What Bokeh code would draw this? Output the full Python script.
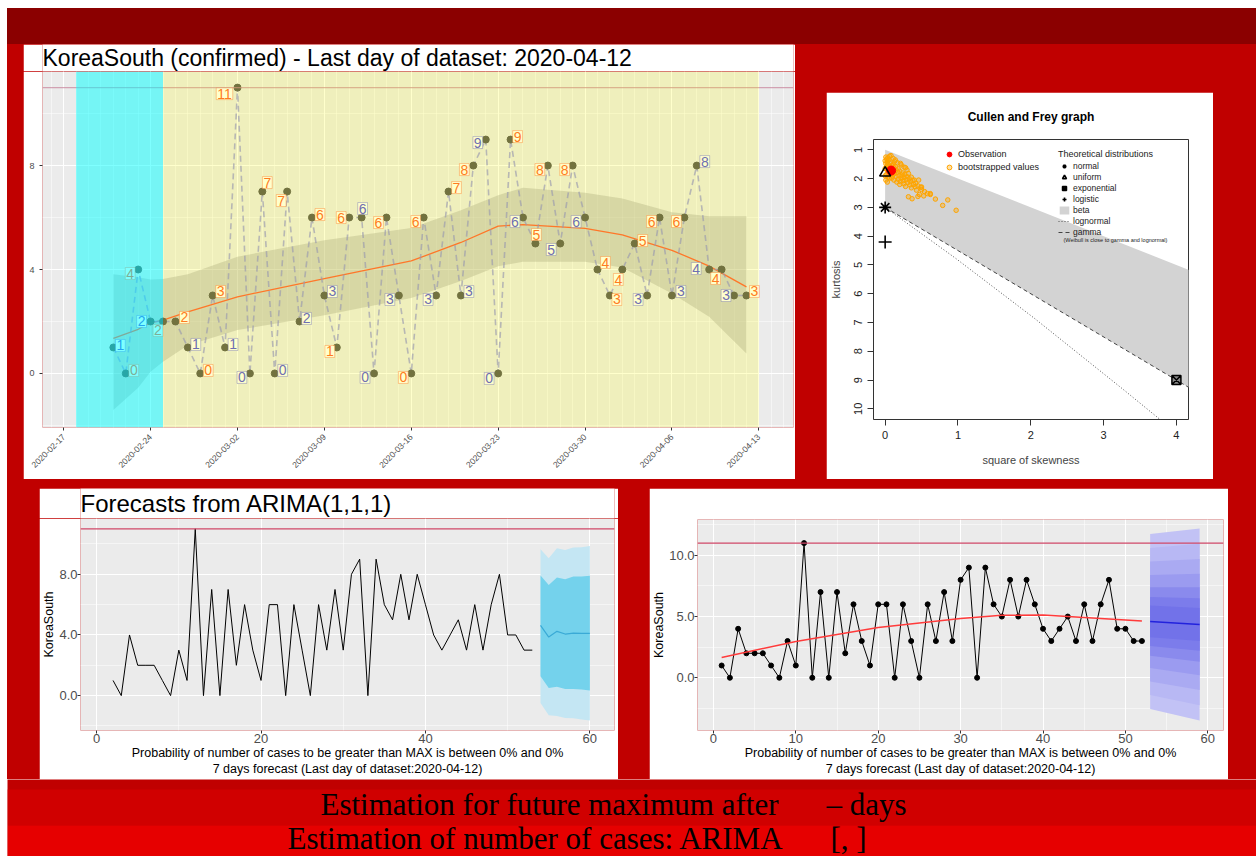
import math
import pandas as pd
from bokeh.plotting import figure
from bokeh.layouts import column, row
from bokeh.models import (ColumnDataSource, Span, BoxAnnotation, FixedTicker,
                          DatetimeTickFormatter, PrintfTickFormatter, Legend,
                          LegendItem, Label, Spacer, Div)
from bokeh.core.properties import value
from bokeh.embed import file_html
from bokeh.resources import INLINE

FONT = "Liberation Sans"
SERIF = "Liberation Serif"

# ------------------------------------------------------------------ data
country = "KoreaSouth"
first_day = "2020-02-21"
last_day = "2020-04-12"
daily_cases = [1, 0, 4, 2, 2, 2, 1, 0, 3, 1, 11, 0, 7, 0, 7, 2, 6, 3, 1, 6,
               6, 0, 6, 3, 0, 6, 3, 7, 3, 8, 9, 0, 9, 6, 5, 8, 5, 8, 6, 4,
               3, 4, 5, 3, 6, 3, 6, 8, 4, 4, 3, 3]
max_cases = 11
label_kind = ["b", "o", "o", "b", "o", "o", "b", "o", "o", "b", "o", "b", "o",
              "b", "o", "b", "o", "b", "o", "o", "b", "b", "o", "b", "o", "o",
              "b", "o", "b", "o", "b", "b", "o", "b", "o", "o", "b", "o", "b",
              "o", "o", "o", "o", "b", "o", "b", "o", "b", "b", "o", "b", "o"]
label_dx = [7, 8, -8, -9, -5, 9, 8, 8, 8, 8, -13, -8, 5, 8, -6, 7, 8, 8, -7, -8,
            1, -9, -8, -9, -8, -8, -8, 8, 8, -9, -8, -9, 7, -8, 1, -8, -9, -8,
            -9, 8, 7, -4, 8, -9, -8, 9, -8, 8, -13, -6, -8, 8]
label_dy = [2, 3, -4, 0, -9, 4, 3, 3, 4, 3, -6, -4, 9, 3, -9, 3, 3, 4, -4, 0,
            9, -4, -5, -4, -4, -4, -4, 4, 4, -4, -3, -5, 3, -4, 9, -4, -6, -4,
            -4, 7, -4, -10, 3, -4, -4, 4, -4, 4, 1, -9, 0, 4]

phase_start = ["2020-02-18", "2020-02-25"]
phase_end = ["2020-02-25", "2020-04-13"]

smooth_dates = ["2020-02-21", "2020-02-23", "2020-02-24", "2020-02-25",
                "2020-02-27", "2020-03-02", "2020-03-09", "2020-03-16",
                "2020-03-20", "2020-03-23", "2020-03-25", "2020-03-30",
                "2020-04-02", "2020-04-06", "2020-04-09", "2020-04-12"]
smooth_fit = [1.35, 1.7, 1.95, 2.05, 2.37, 2.95, 3.65, 4.33, 5.04, 5.67,
              5.73, 5.58, 5.33, 4.74, 4.13, 3.33]
smooth_lo = [-1.41, -0.55, 0.07, 0.45, 1.09, 1.67, 2.24, 2.9, 3.56, 4.13,
             4.3, 4.3, 4.08, 3.08, 2.18, 0.77]
smooth_hi = [3.82, 3.7, 3.62, 3.63, 3.82, 4.49, 5.13, 5.6, 6.28, 6.86,
             7.15, 6.95, 6.73, 6.2, 6.05, 6.05]

date_ticks = ["2020-02-17", "2020-02-24", "2020-03-02", "2020-03-09",
              "2020-03-16", "2020-03-23", "2020-03-30", "2020-04-06",
              "2020-04-13"]

# Cullen and Frey graph
obs_skew2 = [0.082]
obs_kurt = [1.72]
boot_skew2 = [0.01, 0.02, 0.0, 0.03, 0.05, 0.01, 0.04, 0.07, 0.02, 0.06, 0.09,
              0.11, 0.0, 0.03, 0.08, 0.12, 0.14, 0.05, 0.1, 0.15, 0.18, 0.02,
              0.07, 0.13, 0.17, 0.2, 0.22, 0.24, 0.04, 0.09, 0.15, 0.19, 0.23,
              0.27, 0.12, 0.18, 0.22, 0.26, 0.3, 0.16, 0.21, 0.25, 0.29, 0.33,
              0.2, 0.26, 0.31, 0.35, 0.38, 0.28, 0.34, 0.39, 0.42, 0.36, 0.41,
              0.45, 0.49, 0.43, 0.5, 0.54, 0.47, 0.53, 0.58, 0.62, 0.45, 0.69,
              0.86, 0.79, 0.975, 0.06, 0.13, 0.17, 0.26, 0.3, 0.32, 0.36, 0.28,
              0.0, 0.01, 0.03, 0.06, 0.1, 0.14, 0.08, 0.11, 0.04, 0.21, 0.32,
              0.37, 0.4, 0.46, 0.5, 0.62]
boot_kurt = [1.25, 1.32, 1.38, 1.42, 1.35, 1.48, 1.52, 1.45, 1.58, 1.6, 1.55,
             1.5, 1.65, 1.7, 1.66, 1.62, 1.58, 1.78, 1.75, 1.7, 1.66, 1.85,
             1.88, 1.82, 1.78, 1.74, 1.52, 1.8, 1.95, 1.98, 1.92, 1.9, 1.88,
             1.85, 2.05, 2.02, 1.98, 1.96, 1.93, 2.12, 2.1, 2.07, 2.04, 2.0,
             2.2, 2.18, 2.14, 2.1, 2.06, 2.27, 2.22, 2.2, 2.16, 2.32, 2.28,
             2.25, 2.3, 2.4, 2.38, 2.45, 2.55, 2.6, 2.52, 2.55, 2.62, 2.71,
             2.74, 2.93, 3.1, 1.22, 1.4, 1.45, 1.6, 1.7, 1.82, 1.95, 1.62,
             1.9, 2.05, 2.12, 1.98, 1.9, 1.35, 1.2, 1.3, 1.28, 1.47, 2.63,
             2.7, 2.05, 2.05, 2.29, 2.52]
dist_skew2 = {"normal": 0.0, "uniform": 0.0, "exponential": 4.0, "logistic": 0.0}
dist_kurt = {"normal": 3.0, "uniform": 1.8, "exponential": 9.0, "logistic": 4.2}
beta_x = [0.0, 4.3, 4.3, 0.0]
beta_y = [1.0, 5.3, 9.45, 3.0]
lognormal_x = [0.0, 0.961, 2.048, 3.267, 3.8]
lognormal_y = [3.0, 4.756, 6.85, 9.32, 10.42]
gamma_x = [0.0, 4.3]
gamma_y = [3.0, 9.45]

# ARIMA forecast
arima_x = list(range(2, 2 + len(daily_cases)))
fc_x = [54, 55, 56, 57, 58, 59, 60]
fc_mean = [4.63, 3.86, 4.24, 4.06, 4.12, 4.1, 4.1]
fc_lo80 = [1.27, 0.51, 0.59, 0.44, 0.44, 0.4, 0.33]
fc_hi80 = [7.92, 7.3, 7.79, 7.68, 7.86, 7.86, 7.9]
fc_lo95 = [-0.48, -1.29, -1.34, -1.47, -1.5, -1.58, -1.64]
fc_hi95 = [9.65, 9.06, 9.72, 9.6, 9.76, 9.78, 9.87]

# regression forecast
reg_x = list(range(1, 1 + len(daily_cases)))
trend_x = [1, 10, 20, 30, 35, 40, 45, 52]
trend_y = [1.66, 2.96, 4.1, 4.85, 5.1, 5.12, 4.93, 4.63]
fan_x = [53, 59]
fan_upper = [[11.75, 12.2], [10.6, 10.95], [9.5, 9.7], [8.4, 8.5],
             [7.4, 7.4], [6.6, 6.5], [5.9, 5.7]]
fan_lower = [[-2.55, -3.5], [-1.4, -2.25], [-0.3, -1.0], [0.8, 0.2],
             [1.8, 1.3], [2.6, 2.2], [3.3, 3.0]]
fan_mean = [4.6, 4.35]

x_caption = ("Probability of number of cases to be greater than MAX is between 0% and 0%\n"
             f"7 days forecast (Last day of dataset:{last_day})")
footer_line1 = ["Estimation for future maximum after", "\u2013 days"]
footer_line2 = ["Estimation of number of cases: ARIMA", "[, ]"]


# ------------------------------------------------------------------ helpers
def ms(d):
    return pd.Timestamp(d).value / 1e6


def gg_axes(p, size="13px"):
    for ax in (p.xaxis, p.yaxis):
        ax.axis_line_color = None
        ax.major_tick_line_color = "#333333"
        ax.major_tick_out = 3
        ax.major_tick_in = 0
        ax.minor_tick_out = 0
        ax.minor_tick_in = 0
        ax.major_label_text_color = "#4D4D4D"
        ax.major_label_text_font = FONT
        ax.major_label_text_font_size = size
        ax.axis_label_text_font = FONT
        ax.axis_label_text_font_style = "normal"
        ax.axis_label_text_color = "black"
    p.grid.grid_line_color = "white"
    p.grid.grid_line_width = 1.1
    p.grid.minor_grid_line_color = "white"
    p.grid.minor_grid_line_width = 0.5


def text_strip(w, h, color, pieces, font, size):
    """A plain strip carrying texts; pieces = (x from left, y middle from bottom, text)."""
    b = figure(width=w, height=h, x_range=(0, w), y_range=(0, h),
               output_backend="svg", toolbar_location=None,
               background_fill_color=color, border_fill_color=color,
               outline_line_color=None, min_border=0)
    b.title = None
    b.axis.visible = False
    b.grid.visible = False
    b.text(x=[px for px, _, _ in pieces], y=[py for _, py, _ in pieces],
           text=[t for _, _, t in pieces], text_font=value(font),
           text_font_size=size, text_color="black",
           text_baseline="middle", text_align="left")
    return b


# ------------------------------------------------------------------ fig 1
dates = pd.date_range(first_day, last_day, freq="D")
orange = "#FF5A2A"
blue = "#4A4AE0"
src1 = ColumnDataSource(dict(
    date=dates, cases=daily_cases, label=[str(v) for v in daily_cases],
    tcolor=[orange if k == "o" else blue for k in label_kind],
    dx=label_dx, ndy=[-d for d in label_dy]))

t1 = text_strip(772, 27, "white",
                [(0, 13.6, f"{country} (confirmed) - Last day of dataset: {last_day}")],
                FONT, "23px")

x_lo = pd.Timestamp("2020-02-17") - pd.Timedelta(hours=41)
x_hi = pd.Timestamp("2020-02-17") + pd.Timedelta(hours=1411)
p1 = figure(width=772, height=408, x_axis_type="datetime",
            x_range=(x_lo, x_hi), y_range=(-2.08, 11.62),
            output_backend="svg", toolbar_location=None,
            background_fill_color="#EBEBEB", border_fill_color="white",
            outline_line_color=None, min_border_left=19, min_border_right=2,
            min_border_top=0, min_border_bottom=52)
p1.title = None
gg_axes(p1, "9px")
p1.xaxis.ticker = FixedTicker(ticks=[ms(d) for d in date_ticks],
                              minor_ticks=[ms(d) for d in pd.date_range("2020-02-15", "2020-04-16")])
p1.xaxis.formatter = DatetimeTickFormatter(days="%Y-%m-%d", months="%Y-%m-%d",
                                           hours="%Y-%m-%d", years="%Y-%m-%d")
p1.xaxis.major_label_orientation = math.pi / 4
p1.xaxis.major_label_text_font_size = "8.5px"
p1.yaxis.ticker = FixedTicker(ticks=[0, 4, 8], minor_ticks=[-2, 2, 6, 10])

p1.varea(x=pd.to_datetime(smooth_dates), y1=smooth_lo, y2=smooth_hi,
         fill_color="#999999", fill_alpha=0.36)
p1.line(x=pd.to_datetime(smooth_dates), y=smooth_fit, line_color="#FF5533",
        line_width=1.3)
p1.line(x="date", y="cases", source=src1, line_color="#7F7FDA",
        line_alpha=0.65, line_width=1.6, line_dash="6 4")
p1.scatter(x="date", y="cases", source=src1, size=7, color="#4F4F4F")
p1.text(x="date", y="cases", text="label", source=src1, text_color="tcolor",
        text_font=value(FONT), text_font_size="14px", text_align="center",
        text_baseline="middle", x_offset="dx", y_offset="ndy",
        background_fill_color="white", border_line_color="tcolor",
        border_line_alpha=0.4, border_line_width=1, padding=1)
p1.add_layout(Span(location=max_cases, dimension="width",
                   line_color="#C8829A", line_alpha=0.7, line_width=1.2))
p1.add_layout(BoxAnnotation(left=ms(phase_start[0]), right=ms(phase_end[0]),
                            fill_color="#00FFFF", fill_alpha=0.5, line_color=None))
p1.add_layout(BoxAnnotation(left=ms(phase_start[1]), right=ms(phase_end[1]),
                            fill_color="#FFFF00", fill_alpha=0.2, line_color=None))

# ------------------------------------------------------------------ fig 2
p2 = figure(width=387, height=387, x_range=(-0.16, 4.166), y_range=(10.37, 0.64),
            output_backend="svg", toolbar_location=None,
            background_fill_color="white", border_fill_color="white",
            outline_line_color="#333333", outline_line_width=1,
            min_border_left=47, min_border_right=25, min_border_top=47,
            min_border_bottom=60)
p2.grid.visible = False
p2.title.text = "Cullen and Frey graph"
p2.title.align = "center"
p2.title.text_font = FONT
p2.title.text_font_size = "12px"
p2.title.text_font_style = "bold"
p2.title.text_color = "black"
p2.title.standoff = 31
for ax in (p2.xaxis, p2.yaxis):
    ax.axis_line_color = None
    ax.major_tick_line_color = "#333333"
    ax.major_tick_out = 6
    ax.major_tick_in = 0
    ax.minor_tick_out = 0
    ax.minor_tick_in = 0
    ax.major_label_text_font = FONT
    ax.major_label_text_font_size = "11px"
    ax.major_label_text_color = "#222222"
    ax.axis_label_text_font = FONT
    ax.axis_label_text_font_size = "11px"
    ax.axis_label_text_font_style = "normal"
    ax.major_label_standoff = 5
    ax.axis_label_standoff = 10
p2.xaxis.axis_label_standoff = 12
p2.xaxis.ticker = FixedTicker(ticks=[0, 1, 2, 3, 4])
p2.yaxis.ticker = FixedTicker(ticks=list(range(1, 11)))
p2.yaxis.major_label_orientation = "vertical"
p2.xaxis.axis_label = "square of skewness"
p2.yaxis.axis_label = "kurtosis"

r_beta = p2.patch(beta_x, beta_y, fill_color="#D3D3D3", line_color=None)
r_logn = p2.line(lognormal_x, lognormal_y, line_color="#555555", line_width=1,
                 line_dash="1 2")
r_gamma = p2.line(gamma_x, gamma_y, line_color="#444444", line_width=1,
                  line_dash="4 3")
r_boot = p2.scatter(boot_skew2, boot_kurt, size=4.5, marker="circle",
                    fill_color="#FFA500", fill_alpha=0.35, line_color="#FFA500",
                    line_width=1)
r_obs = p2.scatter(obs_skew2, obs_kurt, size=9, color="red")
r_norm = p2.scatter([dist_skew2["normal"]], [dist_kurt["normal"]], marker="asterisk",
                    size=12, line_color="black", line_width=1.6)
r_unif = p2.scatter([dist_skew2["uniform"]], [dist_kurt["uniform"]], marker="triangle",
                    size=11, fill_color=None, line_color="black", line_width=1.6)
r_expo = p2.scatter([dist_skew2["exponential"]], [dist_kurt["exponential"]],
                    marker="square_x", size=9, fill_color="#888888",
                    line_color="black", line_width=1.5)
r_logi = p2.scatter([dist_skew2["logistic"]], [dist_kurt["logistic"]], marker="cross",
                    size=13, line_color="black", line_width=1.6)

leg1 = Legend(items=[LegendItem(label="Observation", renderers=[r_obs]),
                     LegendItem(label="bootstrapped values", renderers=[r_boot])],
              location=(70, 246), padding=0, margin=0, spacing=1,
              glyph_width=12, glyph_height=12, label_height=12, label_standoff=3,
              label_text_font=FONT, label_text_font_size="9px",
              label_text_color="#222222", border_line_color=None,
              background_fill_alpha=0)
leg2 = Legend(items=[LegendItem(label="normal", renderers=[r_norm]),
                     LegendItem(label="uniform", renderers=[r_unif]),
                     LegendItem(label="exponential", renderers=[r_expo]),
                     LegendItem(label="logistic", renderers=[r_logi]),
                     LegendItem(label="beta", renderers=[r_beta]),
                     LegendItem(label="lognormal", renderers=[r_logn]),
                     LegendItem(label="gamma", renderers=[r_gamma])],
              title="Theoretical distributions", title_text_font=FONT,
              title_text_font_size="9px", title_text_font_style="normal",
              title_text_color="#222222", title_standoff=2,
              location=(185, 182), padding=0, margin=0, spacing=1,
              glyph_width=12, glyph_height=10, label_height=10, label_standoff=3,
              label_text_font=FONT, label_text_font_size="8.5px",
              label_text_color="#222222", border_line_color=None,
              background_fill_alpha=0)
p2.add_layout(leg1)
p2.add_layout(leg2)
p2.add_layout(Label(x=190, y=180, x_units="screen", y_units="screen",
                    text="(Weibull is close to gamma and lognormal)",
                    text_font=FONT, text_font_size="5.5px",
                    text_baseline="middle", text_color="#222222"))


# ------------------------------------------------------------------ fig 3 / 4
def forecast_axes(p):
    gg_axes(p)
    p.xaxis.major_label_standoff = 0
    p.yaxis.major_label_standoff = 0
    p.yaxis.axis_label = country
    p.yaxis.axis_label_text_font_size = "12.5px"
    p.yaxis.axis_label_standoff = 0
    p.xaxis.axis_label = x_caption
    p.xaxis.axis_label_text_font_size = "12.5px"
    p.xaxis.axis_label_standoff = 0
    p.yaxis.formatter = PrintfTickFormatter(format="%.1f")


t3 = text_strip(579, 30, "white", [(0, 15.0, "Forecasts from ARIMA(1,1,1)")],
                FONT, "24px")
p3 = figure(width=579, height=261, x_range=(-1.96, 63.0), y_range=(-2.3, 11.68),
            output_backend="svg", toolbar_location=None,
            background_fill_color="#EBEBEB", border_fill_color="white",
            outline_line_color=None, min_border_left=39, min_border_right=4,
            min_border_top=0, min_border_bottom=48)
p3.title = None
forecast_axes(p3)
p3.xaxis.ticker = FixedTicker(ticks=[0, 20, 40, 60], minor_ticks=[10, 30, 50])
p3.yaxis.ticker = FixedTicker(ticks=[0, 4, 8], minor_ticks=[-2, 2, 6, 10])

p3.line(arima_x, daily_cases, line_color="black", line_width=1)
p3.varea(x=fc_x, y1=fc_lo95, y2=fc_hi95, fill_color="#C4E6F3")
p3.varea(x=fc_x, y1=fc_lo80, y2=fc_hi80, fill_color="#74D2EC")
p3.line(fc_x, fc_mean, line_color="#3AAAD6", line_width=1.2)
p3.add_layout(Span(location=max_cases, dimension="width",
                   line_color="#D04868", line_width=1.2))

p4 = figure(width=579, height=291, x_range=(-1.93, 61.9), y_range=(-4.31, 12.93),
            output_backend="svg", toolbar_location=None,
            background_fill_color="#EBEBEB", border_fill_color="white",
            outline_line_color=None, min_border_left=47, min_border_right=5,
            min_border_top=31, min_border_bottom=48)
p4.title = None
forecast_axes(p4)
p4.xaxis.ticker = FixedTicker(ticks=[0, 10, 20, 30, 40, 50, 60],
                              minor_ticks=[5, 15, 25, 35, 45, 55])
p4.yaxis.ticker = FixedTicker(ticks=[0, 5, 10], minor_ticks=[-2.5, 2.5, 7.5, 12.5])

fan_colors = ["#C2C2F5", "#B8B8F4", "#AAAAF2", "#9B9BF0", "#8A8AED", "#7C7CEB", "#7272E9"]
for up, lo, c in zip(fan_upper, fan_lower, fan_colors):
    p4.varea(x=fan_x, y1=lo, y2=up, fill_color=c)
p4.line(fan_x, fan_mean, line_color="#2222DD", line_width=1.5)
p4.line(reg_x, daily_cases, line_color="black", line_width=1)
p4.scatter(reg_x, daily_cases, size=5, color="black")
p4.line(trend_x, trend_y, line_color="#FF3B3B", line_width=1.5)
p4.add_layout(Span(location=max_cases, dimension="width",
                   line_color="#D04868", line_width=1.2))

# ------------------------------------------------------------------ footer
# one strip from y=779 to the bottom; the two coloured bands are box annotations
footer = text_strip(1249, 77, "#C00000",
                    [(313, 51.9, footer_line1[0]), (819, 51.9, footer_line1[1]),
                     (280, 18.0, footer_line2[0]), (823, 18.0, footer_line2[1])],
                    SERIF, "31px")
footer.add_layout(BoxAnnotation(bottom=31, top=67, fill_color="#D00000",
                                fill_alpha=1, line_color=None, level="underlay"))
footer.add_layout(BoxAnnotation(bottom=0, top=31, fill_color="#E60000",
                                fill_alpha=1, line_color=None, level="underlay"))

header = Div(width=1249, height=36, margin=0,
             styles={"background-color": "#8B0000"})
body_top = row(Spacer(width=16, height=435), column(t1, p1),
               Spacer(width=31, height=435),
               column(Spacer(width=387, height=48), p2))
body_bot = row(Spacer(width=32, height=291), column(t3, p3),
               Spacer(width=31, height=291), p4)
body = column(body_top, Spacer(width=1249, height=9), body_bot,
              styles={"background-color": "#C00000"})
main = column(header, body, footer)
root = column(Spacer(width=1256, height=8), row(Spacer(width=7, height=848), main),
              styles={"background-color": "white"})

open("out.html", "w").write(file_html(root, INLINE))
